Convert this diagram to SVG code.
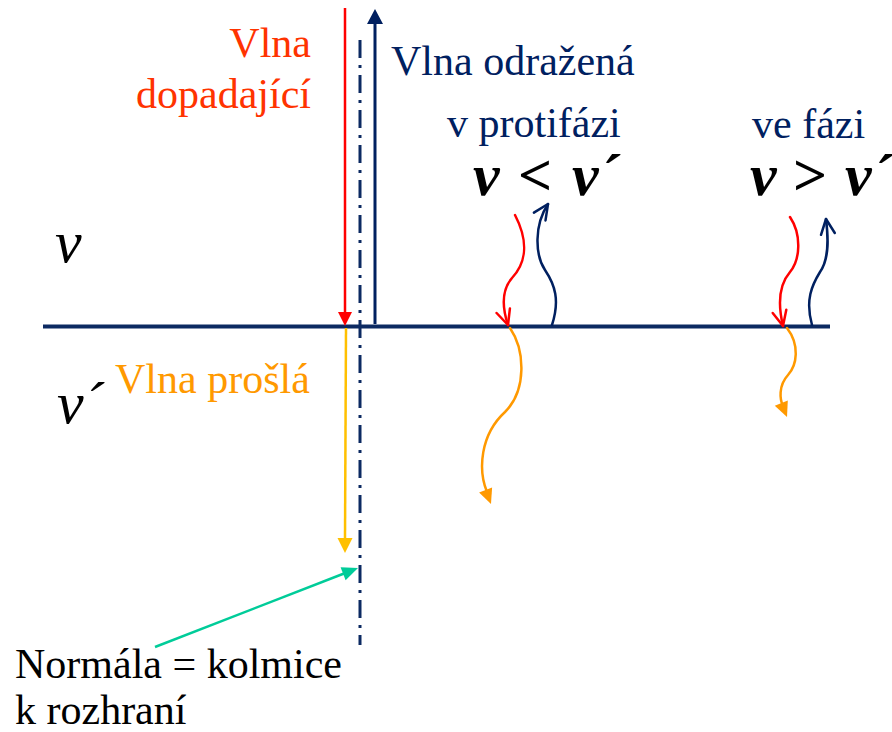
<svg xmlns="http://www.w3.org/2000/svg" width="892" height="732" viewBox="0 0 892 732">
<g id="interface">
<line x1="43" y1="326.5" x2="830" y2="326.5" stroke="#0C2A62" stroke-width="4"/>
</g>

<g id="connectors">
<line id="normal" x1="360" y1="40" x2="360" y2="645" stroke="#0C2A62" stroke-width="3" stroke-dasharray="18 7 3 7"/>
<g id="incident">
<line x1="345" y1="8" x2="345" y2="313" stroke="#FF0000" stroke-width="2.5"/>
<path d="M338,312 L352,312 L345,326 Z" fill="#FF0000"/>
</g>
<g id="reflected">
<line x1="375" y1="324" x2="375" y2="23" stroke="#002060" stroke-width="3"/>
<path d="M367,24 L383,24 L375,9 Z" fill="#002060"/>
</g>
<g id="transmitted">
<line x1="346" y1="328" x2="345" y2="539" stroke="#FFC000" stroke-width="2.5"/>
<path d="M337.5,538 L352.5,538 L345,553 Z" fill="#FFC000"/>
</g>
<g id="normal-pointer">
<line x1="155" y1="647" x2="344" y2="573.5" stroke="#00CC99" stroke-width="2.5"/>
<path d="M345.6,580.3 L340.6,567.3 L358,568 Z" fill="#00CC99"/>
</g>
<g fill="none" stroke-width="2.5" stroke-linecap="round" stroke-linejoin="round">
<path d="M515,215 C528,240 527,262 512,278 C500,292 503,310 508,325" stroke="#FF0000"/>
<path d="M509.9,308.6 L508,325 L496.6,313" stroke="#FF0000"/>
<path d="M552,325 C560,300 555,285 545,270 C535,255 534,225 548,204" stroke="#002060"/>
<path d="M545.5,220.4 L548,204 L533.9,212.6" stroke="#002060"/>
<path d="M510,328 C525,350 527,390 505,412 C480,435 478,470 487,492" stroke="#FF9900"/>
<path d="M790,217 C802,235 800,260 790,272 C778,286 778,305 783,326" stroke="#FF0000"/>
<path d="M786.3,309.8 L783,326 L772.7,313" stroke="#FF0000"/>
<path d="M812,325 C805,300 812,285 820,272 C830,258 828,235 826,219" stroke="#002060"/>
<path d="M834.8,233 L826,219 L821,234.8" stroke="#002060"/>
<path d="M787,328 C800,345 797,365 788,375 C778,386 780,400 783,406" stroke="#FF9900"/>
</g>
<path d="M492.1,487.5 L479.1,492.5 L491,504 Z" fill="#FF9900"/>
<path d="M787.8,400.4 L774.8,405.8 L787,417 Z" fill="#FF9900"/>
</g>

<g id="label-incident">
<text x="311" y="57" font-size="42" font-family="Liberation Serif" fill="#FF3300" text-anchor="end">Vlna</text>
<text x="311" y="108" font-size="42" font-family="Liberation Serif" fill="#FF3300" text-anchor="end">dopadající</text>
</g>
<g id="label-reflected">
<text x="391" y="75" font-size="42" font-family="Liberation Serif" fill="#002060">Vlna odražená</text>
</g>
<g id="label-antiphase">
<text x="447" y="137" font-size="42" font-family="Liberation Serif" fill="#002060">v protifázi</text>
<text x="473" y="195" font-size="60" font-family="Liberation Serif" font-weight="bold" font-style="italic">v</text>
<text x="518" y="195" font-size="60" font-family="Liberation Serif" font-weight="bold">&lt;</text>
<text x="572" y="195" font-size="60" font-family="Liberation Serif" font-weight="bold" font-style="italic">v´</text>
</g>
<g id="label-inphase">
<text x="752" y="138" font-size="42" font-family="Liberation Serif" fill="#002060">ve fázi</text>
<text x="750" y="195" font-size="60" font-family="Liberation Serif" font-weight="bold" font-style="italic">v</text>
<text x="793" y="195" font-size="60" font-family="Liberation Serif" font-weight="bold">&gt;</text>
<text x="845" y="195" font-size="60" font-family="Liberation Serif" font-weight="bold" font-style="italic">v´</text>
</g>
<g id="label-v">
<text x="55" y="262" font-size="60" font-family="Liberation Serif" font-style="italic">v</text>
</g>
<g id="label-v2">
<text x="57" y="423" font-size="60" font-family="Liberation Serif" font-style="italic">v´</text>
</g>
<g id="label-transmitted">
<text x="115" y="393" font-size="42" font-family="Liberation Serif" fill="#FF9900">Vlna prošlá</text>
</g>
<g id="label-normal">
<text x="15" y="678" font-size="42" font-family="Liberation Serif">Normála = kolmice</text>
<text x="15" y="724" font-size="42" font-family="Liberation Serif">k rozhraní</text>
</g>
</svg>
